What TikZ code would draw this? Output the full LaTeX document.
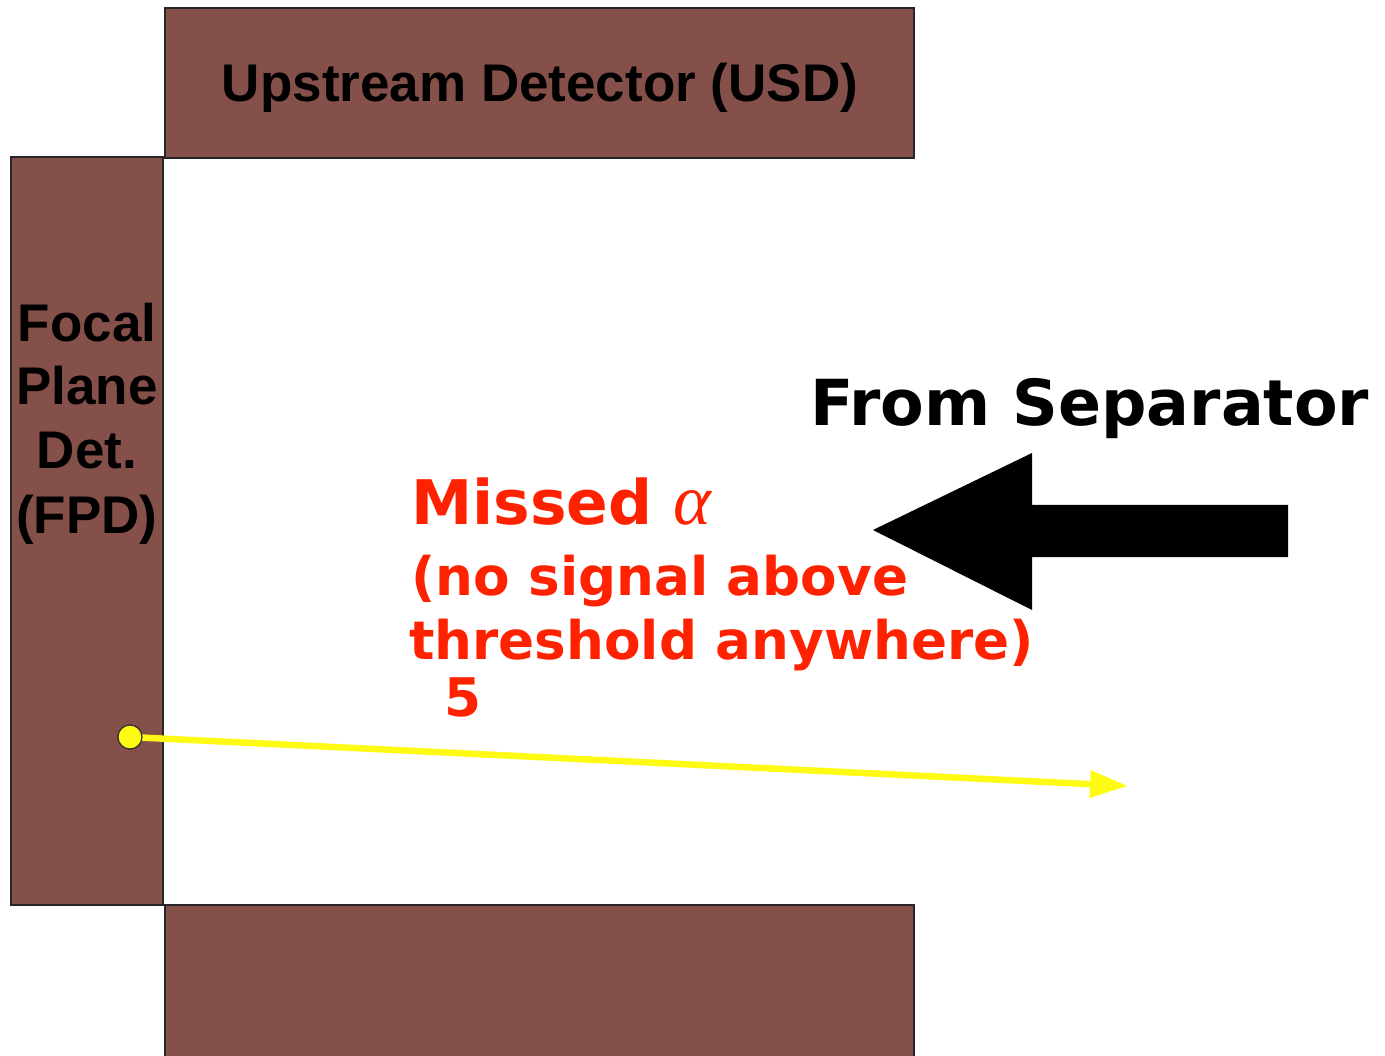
\documentclass[tikz,border=0pt]{standalone}
\usepackage{fontspec}
\usetikzlibrary{arrows.meta}
\newfontfamily\hfont{Liberation Sans}
\newfontfamily\vfont{DejaVu Sans}
\newfontfamily\serfont{Liberation Serif}
\definecolor{brownbox}{RGB}{133,80,74}
\definecolor{redtxt}{RGB}{255,34,0}
\definecolor{ylw}{RGB}{255,250,20}
\tikzset{
  detbox/.style={draw=black!85, line width=1.5pt, fill=brownbox, inner sep=0pt, outer sep=0pt},
  hlabel/.style={font=\hfont\bfseries\fontsize{53}{64}\selectfont, anchor=base, inner sep=0pt},
  flabel/.style={font=\hfont\bfseries\fontsize{53}{64}\selectfont, anchor=base, inner sep=0pt},
  redlabel/.style={font=\vfont\bfseries\fontsize{53.2}{64}\selectfont, text=redtxt, anchor=base west, inner sep=0pt},
  ydot/.style={circle, draw=black!80, line width=1.2pt, fill=ylw, minimum size=24pt, inner sep=0pt},
}
\begin{document}
\begin{tikzpicture}[x=1pt,y=-1pt]
\useasboundingbox (0,0) rectangle (1385,1056);
% boxes
\node[detbox, minimum width=749pt, minimum height=150pt] (usd) at (539.5,83) {};
\node[detbox, minimum width=152pt, minimum height=748pt] (fpd) at (87,531) {};
\node[detbox, minimum width=749pt, minimum height=154pt] (bot) at (539.5,982) {};
% box labels
\node[hlabel] (usdt) at (540,102) {Upstream Detector (USD)};
\node[flabel] (f1) at (87,342) {Focal};
\node[flabel] (f2) at (87,405) {Plane};
\node[flabel] (f3) at (87,469) {Det.};
\node[flabel] (f4) at (87,533) {(FPD)};
% big black arrow
\fill[black] (873,530) -- (1032,453) -- (1032,505) -- (1288,505) -- (1288,557) -- (1032,557) -- (1032,610) -- cycle;
\node[font=\vfont\bfseries\fontsize{63.5}{70}\selectfont, anchor=base west, inner sep=0pt] (sep) at (810,426) {From Separator};
% red labels
\node[font=\vfont\bfseries\fontsize{61.5}{64}\selectfont, text=redtxt, anchor=base west, inner sep=0pt] (missed) at (411,524) {Missed {\serfont\itshape\mdseries\fontsize{72}{64}\selectfont α}};
\node[redlabel] (l2) at (411,595) {(no signal above};
\node[redlabel] (l3) at (409,659) {threshold anywhere)};
\node[redlabel] (l4) at (444,716) {5};
% yellow track
\coordinate (tip) at (1128,786);
\node[ydot] (dot) at (130,737) {};
\draw[ylw, line width=6.5pt, -{Triangle[length=38pt,width=26pt]}] (dot.center) -- (tip);
\node[ydot] at (dot) {};
\end{tikzpicture}
\end{document}
